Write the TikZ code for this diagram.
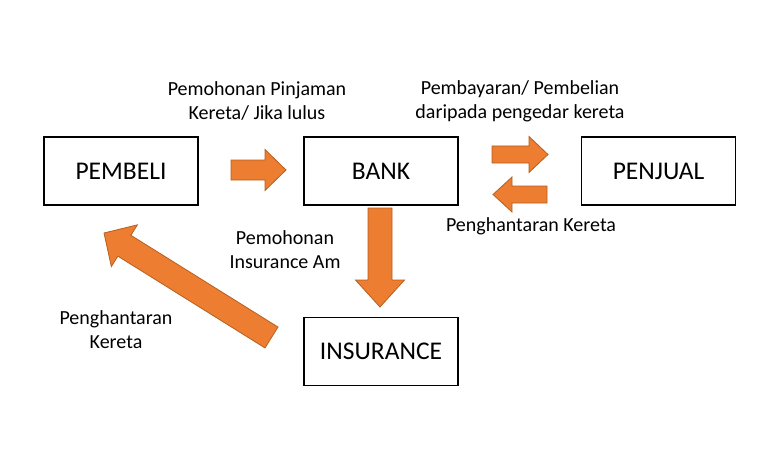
\documentclass[tikz,border=0pt]{standalone}
\usepackage{fontspec}
\setmainfont{Carlito}
\usetikzlibrary{calc}

\definecolor{orangefill}{HTML}{ED7D31}
\definecolor{orangeline}{HTML}{B4601F}

\tikzset{
	box/.style={draw=black, line width=1.2pt, minimum width=154pt, minimum height=68pt,
		inner sep=0pt, font=\fontsize{25.5}{30}\selectfont},
	note/.style={align=center, inner sep=0pt, font=\fontsize{20}{24}\selectfont},
	blockarrow/.style={fill=orangefill, draw=orangeline, line width=0.8pt, line join=miter}
}

\begin{document}
\begin{tikzpicture}[x=1pt,y=-1pt]

	\newcommand\BArrow[5]{%
	\coordinate (hb) at ($(#2)!#5!(#1)$);
	\draw[blockarrow] ($(#1)!#3!90:(#2)$) -- ($(hb)!#3!90:(#2)$) --
	($(hb)!#4!90:(#2)$) -- (#2) -- ($(hb)!#4!-90:(#2)$) --
	($(hb)!#3!-90:(#2)$) -- ($(#1)!#3!-90:(#2)$) -- cycle;}

\useasboundingbox (0,0) rectangle (775,449);

\node[box] at (121,171) (pembeli) {PEMBELI};
\node[box] at (381,171) (bank) {BANK};
\node[box] at (658.5,171) (penjual) {PENJUAL};
\node[box] at (381,351.5) (insurance) {INSURANCE};

\node[note] at (257,101) (pinjaman) {Pemohonan Pinjaman\\Kereta/ Jika lulus};
\node[note] at (520,101) (bayaran) {Pembayaran/ Pembelian\\daripada pengedar kereta};
\node[note] at (531,226) (hantar1) {Penghantaran Kereta};
\node[note] at (285,250) (mohon) {Pemohonan\\Insurance Am};
\node[note] at (116,330) (hantar2) {Penghantaran\\Kereta};

% arrows
\coordinate (a1s) at (231,170);
\coordinate (a1e) at (286,170);
\coordinate (a2s) at (492,154.5);
\coordinate (a2e) at (548,154.5);
\coordinate (a3s) at (547,194.5);
\coordinate (a3e) at (493,194.5);
\coordinate (a4s) at (380,208);
\coordinate (a4e) at (380,307);
\coordinate (a5s) at (271.5,337.5);
\coordinate (a5e) at (104,233);

\BArrow{a1s}{a1e}{10pt}{20.5pt}{21pt}
\BArrow{a2s}{a2e}{8.5pt}{18pt}{19pt}
\BArrow{a3s}{a3e}{8.5pt}{17.5pt}{19pt}
\BArrow{a4s}{a4e}{12pt}{24.5pt}{27pt}
\BArrow{a5s}{a5e}{12.3pt}{24.6pt}{24pt}

\end{tikzpicture}
\end{document}
